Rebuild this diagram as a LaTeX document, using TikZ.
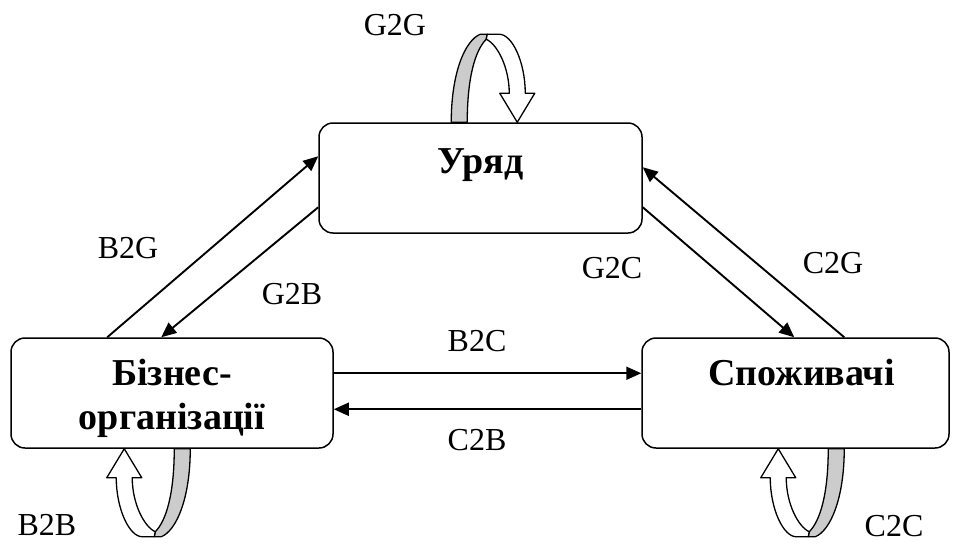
\documentclass[tikz,border=0pt]{standalone}
\usepackage{fontspec}
\setmainfont{Liberation Serif}
\usetikzlibrary{arrows.meta}
\begin{document}
\begin{tikzpicture}[x=1pt,y=-1pt,
  box/.style={draw,line width=1.5pt,rounded corners=14pt,inner sep=0},
  conn/.style={line width=1.9pt,-{Triangle[length=15pt,width=13pt]}},
  lbl/.style={font=\fontsize{32}{36}\selectfont,anchor=base,inner sep=0},
  ttl/.style={font=\fontsize{38}{44}\selectfont\bfseries,anchor=base,inner sep=0,align=center},
  loopline/.style={line width=1.3pt,line join=round},
  ribbon/.pic={
    \filldraw[loopline, fill=gray!40] (50,0) .. controls (50,45) and (42,72) .. (31,83) -- (30,88) -- (37,88) .. controls (52,82) and (66,50) .. (66,0) -- cycle;
    \filldraw[loopline, fill=white] (-8,29) .. controls (-8,60) and (5,88) .. (18,88) -- (30,88) -- (31,83) .. controls (20,78) and (8,55) .. (8,29) -- (17.5,29) -- (0,0) -- (-17.5,29) -- cycle;
  }]
\useasboundingbox (0,0) rectangle (954,544);

\node[box,minimum width=323pt,minimum height=110pt] (gov) at (480.5,178) {};
\node[box,minimum width=322pt,minimum height=110pt] (biz) at (172,393) {};
\node[box,minimum width=307pt,minimum height=110pt] (cons) at (795.5,393) {};

\node[ttl] (govt) at ([yshift=5pt]gov.center) {Уряд};
\node[ttl] (bizt) at ([yshift=-36pt]biz.center) {Бізнес-\\організації};
\node[ttl] (const) at ([xshift=6pt,yshift=8pt]cons.center) {Споживачі};

% connectors
\draw[conn] ([xshift=97pt]biz.north west) -- ([yshift=-34pt]gov.north west);
\draw[conn] ([yshift=-85pt]gov.north west) -- ([xshift=151pt]biz.north west);
\draw[conn] ([yshift=-85pt]gov.north east) -- ([xshift=153pt]cons.north west);
\draw[conn] ([xshift=203pt]cons.north west) -- ([yshift=-45pt]gov.north east);
\draw[conn] ([yshift=-36pt]biz.north east) -- ([yshift=-36pt]cons.north west);
\draw[conn] ([yshift=-72pt]cons.north west) -- ([yshift=-72pt]biz.north east);

% loops
\pic[rotate=180] at ([xshift=199pt]gov.north west) {ribbon};
\pic at ([xshift=114pt]biz.south west) {ribbon};
\pic at ([xshift=137pt]cons.south west) {ribbon};

% labels
\node[lbl] (lg2g) at (395,35) {G2G};
\node[lbl] (lb2g) at (128,258) {B2G};
\node[lbl] (lg2b) at (292,304) {G2B};
\node[lbl] (lg2c) at (612,278) {G2C};
\node[lbl] (lc2g) at (833,273) {C2G};
\node[lbl] (lb2c) at (477,351) {B2C};
\node[lbl] (lc2b) at (477,450) {C2B};
\node[lbl] (lb2b) at (47,535) {B2B};
\node[lbl] (lc2c) at (894,536) {C2C};
\end{tikzpicture}
\end{document}
